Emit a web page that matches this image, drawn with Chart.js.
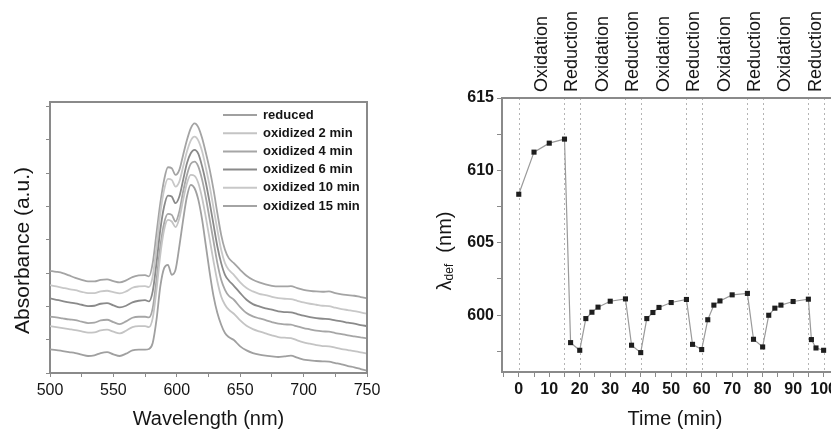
<!DOCTYPE html>
<html>
<head>
<meta charset="utf-8">
<script src="https://cdn.jsdelivr.net/npm/chart.js@4.4.0/dist/chart.umd.min.js"></script>
<style>
  html, body { margin: 0; padding: 0; background: #fff; overflow: hidden; }
  body { width: 831px; height: 431px; position: relative; }
  #spectra { position: absolute; left: 0; top: 60px; }
  #cycles { position: absolute; left: 430px; top: 0; }
</style>
</head>
<body>
<canvas id="spectra" width="400" height="371"></canvas>
<canvas id="cycles" width="450" height="431"></canvas>
<script>
// left panel: spectra (absorbance in arbitrary units)
const wavelengths = [
  500, 505, 510, 515, 520, 525, 530, 535, 540, 545, 550, 555, 560, 565, 570, 575,
  578, 581, 584, 587, 590, 593, 596, 599, 602, 605, 608, 611, 614, 617, 620, 623, 626, 629, 632, 635, 638, 641,
  645, 650, 655, 660, 665, 670, 675, 680, 685, 690, 695, 700, 705, 710, 715, 720, 725, 730, 735, 740, 745, 750
];
const reduced = [
  0.71, 0.69, 0.66, 0.63, 0.6, 0.55, 0.51, 0.53, 0.6, 0.63, 0.56, 0.51, 0.58, 0.68, 0.7, 0.7,
  0.72, 0.9, 1.6, 2.6, 3.15, 3.25, 2.95, 3.1, 3.8, 4.6, 5.3, 5.65, 5.55, 5.2, 4.6, 3.8, 3.0, 2.3, 1.8, 1.45, 1.2, 1.08,
  0.99, 0.8, 0.68, 0.6, 0.55, 0.52, 0.5, 0.48, 0.5, 0.52, 0.46, 0.4, 0.38, 0.36, 0.35, 0.34, 0.3, 0.26, 0.21, 0.17, 0.12, 0.07
];
const oxidized2 = [
  1.41, 1.38, 1.35, 1.32, 1.29, 1.25, 1.21, 1.22, 1.28, 1.3, 1.24, 1.19, 1.27, 1.38, 1.41, 1.41,
  1.38, 1.65, 2.5, 3.55, 4.3, 4.6, 4.55, 4.38, 4.65, 5.2, 5.7, 5.95, 5.92, 5.7, 5.25, 4.65, 4.0, 3.35, 2.75, 2.3, 2.05, 1.9,
  1.78, 1.58, 1.42, 1.32, 1.25, 1.19, 1.13, 1.08, 1.06, 1.05, 0.98, 0.92, 0.88, 0.84, 0.81, 0.8, 0.76, 0.72, 0.69, 0.66, 0.62, 0.59
];
const oxidized4 = [
  1.69, 1.67, 1.64, 1.61, 1.59, 1.54, 1.5, 1.51, 1.58, 1.6, 1.53, 1.47, 1.55, 1.66, 1.69, 1.69,
  1.67, 1.95, 2.8, 3.8, 4.5, 4.78, 4.75, 4.55, 4.85, 5.45, 5.95, 6.28, 6.35, 6.2, 5.8, 5.25, 4.6, 3.95, 3.3, 2.8, 2.5, 2.32,
  2.2, 1.98, 1.8, 1.7, 1.64, 1.59, 1.53, 1.48, 1.46, 1.45, 1.4, 1.35, 1.31, 1.27, 1.25, 1.24, 1.2, 1.17, 1.13, 1.1, 1.07, 1.04
];
const oxidized6 = [
  2.24, 2.2, 2.16, 2.12, 2.09, 2.05, 2.01, 2.02, 2.08, 2.1, 2.03, 1.97, 2.02, 2.12, 2.17, 2.19,
  2.15, 2.45, 3.3, 4.3, 5.0, 5.33, 5.3, 5.1, 5.3, 5.8, 6.3, 6.6, 6.7, 6.58, 6.2, 5.7, 5.1, 4.45, 3.8, 3.3, 2.95, 2.78,
  2.62, 2.4, 2.2, 2.07, 2.0, 1.94, 1.9, 1.85, 1.83, 1.82, 1.77, 1.72, 1.68, 1.65, 1.63, 1.62, 1.58, 1.55, 1.51, 1.48, 1.44, 1.41
];
const oxidized10 = [
  2.64, 2.6, 2.56, 2.52, 2.49, 2.44, 2.4, 2.4, 2.45, 2.47, 2.43, 2.39, 2.45, 2.56, 2.6, 2.61,
  2.58, 2.9, 3.8, 4.8, 5.5, 5.83, 5.8, 5.6, 5.75, 6.2, 6.65, 6.98, 7.1, 6.98, 6.65, 6.15, 5.6, 4.95, 4.3, 3.7, 3.3, 3.1,
  2.95, 2.72, 2.55, 2.45, 2.38, 2.34, 2.29, 2.25, 2.23, 2.22, 2.17, 2.12, 2.08, 2.05, 2.02, 2.01, 1.96, 1.92, 1.89, 1.86, 1.82, 1.78
];
const oxidized15 = [
  3.07, 3.04, 3.0, 2.93, 2.86, 2.8, 2.75, 2.75, 2.8, 2.81, 2.76, 2.72, 2.78, 2.88, 2.93, 2.94,
  2.9, 3.3, 4.2, 5.1, 5.8, 6.18, 6.15, 5.95, 6.1, 6.55, 7.0, 7.35, 7.5, 7.38, 7.05, 6.6, 6.1, 5.5, 4.8, 4.15, 3.7, 3.45,
  3.3, 3.1, 2.92, 2.8, 2.72, 2.66, 2.62, 2.6, 2.6, 2.61, 2.55, 2.5, 2.47, 2.45, 2.44, 2.45, 2.4, 2.36, 2.34, 2.32, 2.28, 2.25
];
const spectraLabels = ["reduced", "oxidized 2 min", "oxidized 4 min", "oxidized 6 min", "oxidized 10 min", "oxidized 15 min"];
const spectraSeries = [reduced, oxidized2, oxidized4, oxidized6, oxidized10, oxidized15];
const spectraColors = ["#a0a0a0", "#c4c4c4", "#a6a6a6", "#8a8a8a", "#c8c8c8", "#a4a4a4"];

// right panel: lambda_def vs time
const timeMin = [0, 5, 10, 15, 17, 20, 22, 24, 26, 30, 35, 37, 40, 42, 44, 46, 50, 55, 57, 60, 62, 64, 66, 70, 75, 77, 80, 82, 84, 86, 90, 95, 96, 97.5, 100];
const lambdaDef = [608.35, 611.26, 611.88, 612.16, 598.1, 597.57, 599.76, 600.2, 600.55, 600.96, 601.12, 597.92, 597.41, 599.76, 600.18, 600.53, 600.87, 601.08, 597.98, 597.62, 599.68, 600.69, 600.98, 601.4, 601.5, 598.33, 597.8, 599.99, 600.48, 600.69, 600.94, 601.1, 598.31, 597.73, 597.57];
const phaseBounds = [0, 15, 20, 35, 40, 55, 60, 75, 80, 95, 100];
const phaseNames = ["Oxidation", "Reduction", "Oxidation", "Reduction", "Oxidation", "Reduction", "Oxidation", "Reduction", "Oxidation", "Reduction"];

const FONT = '"Liberation Sans", Arial, sans-serif';
const INK = '#151515';
const AXIS = '#8a8a8a';

// top + right edges of the frame
const frame = {
  id: 'frame',
  afterDatasetsDraw(chart) {
    const {ctx, chartArea: a} = chart;
    ctx.save();
    ctx.strokeStyle = AXIS;
    ctx.lineWidth = 2;
    ctx.beginPath();
    ctx.moveTo(a.left - 1, a.top);
    ctx.lineTo(a.right, a.top);
    ctx.lineTo(a.right, a.bottom + 1);
    ctx.stroke();
    ctx.restore();
  }
};

// rotated y title, drawn in parts so a subscript is possible
function yTitle(parts, dx, dy) {
  return {
    id: 'yTitle',
    afterDraw(chart) {
      const {ctx, chartArea: a} = chart;
      const cx = a.left + dx, cy = (a.top + a.bottom) / 2 + dy;
      ctx.save();
      ctx.translate(cx, cy);
      ctx.rotate(-Math.PI / 2);
      ctx.fillStyle = INK;
      ctx.textBaseline = 'middle';
      ctx.textAlign = 'left';
      let total = 0;
      parts.forEach(p => { ctx.font = p.size + 'px ' + FONT; total += ctx.measureText(p.text).width; });
      let x = -total / 2;
      parts.forEach(p => {
        ctx.font = p.size + 'px ' + FONT;
        ctx.fillText(p.text, x, p.shift || 0);
        x += ctx.measureText(p.text).width;
      });
      ctx.restore();
    }
  };
}

const spectraLegend = {
  id: 'spectraLegend',
  afterDatasetsDraw(chart) {
    const {ctx, chartArea: a} = chart;
    ctx.save();
    ctx.font = 'bold 13px ' + FONT;
    ctx.textBaseline = 'middle';
    chart.data.datasets.forEach((ds, i) => {
      const y = a.top + 13 + i * 18.2;
      const x0 = a.left + 173;
      ctx.strokeStyle = ds.borderColor;
      ctx.lineWidth = 2;
      ctx.beginPath();
      ctx.moveTo(x0, y);
      ctx.lineTo(x0 + 34, y);
      ctx.stroke();
      ctx.fillStyle = INK;
      ctx.fillText(ds.label, x0 + 40, y);
    });
    ctx.restore();
  }
};

new Chart(document.getElementById('spectra'), {
  type: 'line',
  data: {
    datasets: spectraSeries.map((vals, i) => ({
      label: spectraLabels[i],
      data: vals.map((v, j) => ({x: wavelengths[j], y: v})),
      borderColor: spectraColors[i],
      borderWidth: 1.8,
      pointRadius: 0,
      cubicInterpolationMode: 'monotone'
    }))
  },
  options: {
    responsive: false,
    animation: false,
    devicePixelRatio: 1,
    layout: {padding: {top: 42, right: 33, left: 0, bottom: 0}},
    plugins: {legend: {display: false}, tooltip: {enabled: false}},
    scales: {
      x: {
        type: 'linear', min: 500, max: 750,
        afterFit: s => { s.height = 58; },
        grid: {drawOnChartArea: false, color: AXIS, tickLength: 4},
        border: {color: AXIS, width: 2},
        ticks: {
          stepSize: 25, padding: 4, color: INK, maxRotation: 0, autoSkip: false,
          font: {family: FONT, size: 16},
          callback: v => (v % 50 === 0 ? v : '')
        },
        title: {display: true, text: 'Wavelength (nm)', color: INK, font: {family: FONT, size: 20}, padding: {top: 0, bottom: 0}}
      },
      y: {
        type: 'linear', min: 0, max: 8.14,
        afterFit: s => { s.width = 50; },
        grid: {drawOnChartArea: false, color: AXIS, tickLength: 4},
        border: {color: AXIS, width: 2},
        ticks: {stepSize: 1, includeBounds: false, callback: () => ''}
      }
    }
  },
  plugins: [frame, spectraLegend, yTitle([{text: 'Absorbance (a.u.)', size: 21}], -27, 13)]
});

const phases = {
  id: 'phases',
  beforeDatasetsDraw(chart) {
    const {ctx, chartArea: a, scales: {x}} = chart;
    ctx.save();
    ctx.strokeStyle = '#b4b4b4';
    ctx.lineWidth = 1;
    ctx.setLineDash([2, 3]);
    phaseBounds.forEach(b => {
      const px = Math.round(x.getPixelForValue(b)) + 0.5;
      ctx.beginPath();
      ctx.moveTo(px, a.top);
      ctx.lineTo(px, a.bottom);
      ctx.stroke();
    });
    ctx.restore();
  },
  afterDraw(chart) {
    const {ctx, chartArea: a, scales: {x}} = chart;
    ctx.save();
    ctx.fillStyle = INK;
    ctx.font = '18px ' + FONT;
    ctx.textAlign = 'left';
    ctx.textBaseline = 'middle';
    phaseNames.forEach((name, i) => {
      const mid = (phaseBounds[i] + phaseBounds[i + 1]) / 2;
      ctx.save();
      ctx.translate(x.getPixelForValue(mid), a.top - 6);
      ctx.rotate(-Math.PI / 2);
      ctx.fillText(name, 0, 0);
      ctx.restore();
    });
    ctx.restore();
  }
};

new Chart(document.getElementById('cycles'), {
  type: 'line',
  data: {
    datasets: [{
      data: timeMin.map((t, i) => ({x: t, y: lambdaDef[i]})),
      borderColor: '#9a9a9a',
      borderWidth: 1.2,
      pointStyle: 'rect',
      pointRadius: 3.6,
      pointBorderWidth: 0,
      pointBackgroundColor: '#1e1e1e',
      tension: 0
    }]
  },
  options: {
    responsive: false,
    animation: false,
    devicePixelRatio: 1,
    layout: {padding: {top: 98, right: 32, left: 0, bottom: 0}},
    plugins: {legend: {display: false}, tooltip: {enabled: false}},
    scales: {
      x: {
        type: 'linear', min: -5.5, max: 108,
        afterFit: s => { s.height = 59; },
        grid: {drawOnChartArea: false, color: AXIS, tickLength: 5},
        border: {color: AXIS, width: 2},
        ticks: {
          stepSize: 5, includeBounds: false, padding: 3, color: INK, maxRotation: 0, autoSkip: false,
          font: {family: FONT, size: 16, weight: 'bold'},
          callback: v => (v >= 0 && Math.abs(v % 10) < 1e-6 ? Math.round(v) : '')
        },
        title: {display: true, text: 'Time (min)', color: INK, font: {family: FONT, size: 20}, padding: {top: 0, bottom: 0}}
      },
      y: {
        type: 'linear', min: 596.07, max: 615,
        afterFit: s => { s.width = 72; },
        grid: {drawOnChartArea: false, color: AXIS, tickLength: 5},
        border: {color: AXIS, width: 2},
        ticks: {
          stepSize: 2.5, includeBounds: false, padding: 3, color: INK, autoSkip: false,
          font: {family: FONT, size: 16, weight: 'bold'},
          callback: v => (Math.abs(v % 5) < 1e-6 ? Math.round(v) : '')
        }
      }
    }
  },
  plugins: [frame, phases, yTitle([
    {text: 'λ', size: 20},
    {text: 'def', size: 12, shift: 5},
    {text: '  (nm)', size: 20}
  ], -57, 16)]
});
</script>
</body>
</html>
